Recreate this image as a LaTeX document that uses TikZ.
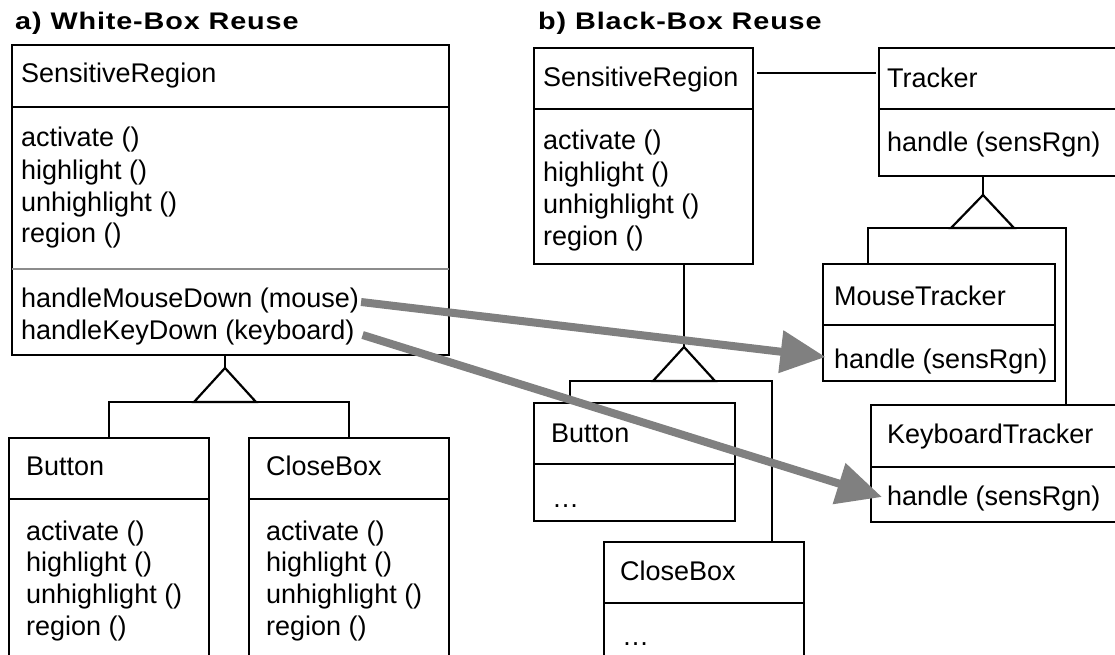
\documentclass[tikz,border=0pt]{standalone}
\usepackage{graphicx}
\usepackage{fontspec}
\setmainfont{Liberation Sans}
\newfontfamily\titlefont{Liberation Sans}[LetterSpace=3]
\usetikzlibrary{arrows.meta}

\definecolor{arrowgray}{HTML}{808080}
\definecolor{rulegray}{HTML}{8C8C8C}

% class box: name, x1, y1, x2, y2, y of the compartment rule
\newcommand\classbox[6]{%
  \node[umlbox, minimum width={#4-#2}, minimum height={#5-#3}] (#1) at (#2,#3) {};
  \draw[link] (#2,#6) -- (#4,#6);
}
% extended bold heading
\newcommand\headtext[1]{\scalebox{1.2}[1]{#1}}

\begin{document}
\begin{tikzpicture}[x=1pt, y=-1pt,
  umlbox/.style={draw, line width=2.2pt, inner sep=0pt, outer sep=0pt, anchor=north west},
  link/.style={line width=2.2pt},
  txt/.style={anchor=base west, inner sep=0pt, font=\fontsize{27}{32}\selectfont},
  heading/.style={anchor=base west, inner sep=0pt, font=\titlefont\bfseries\fontsize{24}{28}\selectfont},
  reuse/.style={draw=arrowgray, line width=8pt, -{Triangle[length=45pt, width=41pt]}}]

\path[use as bounding box] (0,0) rectangle (1115,655);
\clip (0,0) rectangle (1115,655);

% ---------- headings ----------
\node[heading] (ha) at (15,30) {\headtext{a) White-Box Reuse}};
\node[heading] (hb) at (538,30) {\headtext{b) Black-Box Reuse}};

% ---------- a) white-box reuse ----------
\classbox{srA}{12}{45}{449}{355}{107}
\draw[draw=rulegray, line width=1.6pt] (srA.west |- 0,269) -- (srA.east |- 0,269);
\node[txt] (srAname) at (21,83) {SensitiveRegion};
\node[txt] (srA1) at (21,147) {activate ()};
\node[txt] (srA2) at (21,179) {highlight ()};
\node[txt] (srA3) at (21,211) {unhighlight ()};
\node[txt] (srA4) at (21,242) {region ()};
\node[txt] (aMouse) at (21,307) {handleMouseDown (mouse)};
\node[txt] (aKey) at (21,339) {handleKeyDown (keyboard)};

\classbox{btnA}{9}{438}{209}{670}{499}
\node[txt] (btnAname) at (26,475) {Button};
\node[txt] (btnA1) at (26,540) {activate ()};
\node[txt] (btnA2) at (26,571) {highlight ()};
\node[txt] (btnA3) at (26,603) {unhighlight ()};
\node[txt] (btnA4) at (26,635) {region ()};

\classbox{cbA}{249}{438}{449}{670}{499}
\node[txt] (cbAname) at (266,475) {CloseBox};
\node[txt] (cbA1) at (266,540) {activate ()};
\node[txt] (cbA2) at (266,571) {highlight ()};
\node[txt] (cbA3) at (266,603) {unhighlight ()};
\node[txt] (cbA4) at (266,635) {region ()};

% generalization Button/CloseBox -> SensitiveRegion
\coordinate (aApex) at (225,368);
\draw[link] (aApex |- srA.south) -- (aApex);
\draw[link] (aApex) -- ++(-31,34) -- ++(62,0) -- cycle;
\draw[link] (btnA.north) -- ++(0,-36) -| (cbA.north);

% ---------- b) black-box reuse ----------
\classbox{srB}{534}{48}{753}{264}{109}
\node[txt] (srBname) at (543,87) {SensitiveRegion};
\node[txt] (srB1) at (543,150) {activate ()};
\node[txt] (srB2) at (543,182) {highlight ()};
\node[txt] (srB3) at (543,213) {unhighlight ()};
\node[txt] (srB4) at (543,245) {region ()};

\classbox{tracker}{879}{48}{1135}{176}{109}
\node[txt] (trname) at (887,88) {Tracker};
\node[txt] (tr1) at (887,152) {handle (sensRgn)};

\classbox{mt}{823}{264}{1055}{381}{325}
\node[txt] (mtname) at (834,305) {MouseTracker};
\node[txt] (mtHandle) at (834,368) {handle (sensRgn)};

\classbox{kt}{871}{405}{1135}{522}{467}
\node[txt] (ktname) at (887,443) {KeyboardTracker};
\node[txt] (ktHandle) at (887,505) {handle (sensRgn)};

\classbox{btnB}{534}{403}{735}{521}{464}
\node[txt] (btnBname) at (551,442) {Button};
\node[txt] (btnB1) at (552,507) {…};

\classbox{cbB}{604}{542}{804}{670}{603}
\node[txt] (cbBname) at (620,580) {CloseBox};
\node[txt] (cbB1) at (622,645) {…};

% association SensitiveRegion -- Tracker
\coordinate (assocY) at (0,73);
\draw[link] ([xshift=4pt]srB.east |- assocY) -- ([xshift=-3pt]tracker.west |- assocY);

% generalization Button/CloseBox -> SensitiveRegion
\coordinate (bApex) at (684,347);
\draw[link] (bApex |- srB.south) -- (bApex);
\draw[link] (bApex) -- ++(-31,34) -- ++(62,0) -- cycle;
\draw[link] ([xshift=36pt]btnB.north west) -- ++(0,-22) -- ++(202,0) -- ([xshift=-32pt]cbB.north east);

% generalization MouseTracker/KeyboardTracker -> Tracker
\coordinate (tApex) at (983,195);
\draw[link] (tApex |- tracker.south) -- (tApex);
\draw[link] (tApex) -- ++(-32,33) -- ++(63,0) -- cycle;
\draw[link] ([xshift=45pt]mt.north west) -- ++(0,-36) -- ++(198,0) -- ([xshift=195pt]kt.north west);

% ---------- handler methods moved into trackers ----------
\draw[reuse] ([shift={(2,-5)}]aMouse.base east) -- ([shift={(-8.5,-11)}]mtHandle.base west);
\draw[reuse] ([shift={(8,-4)}]aKey.base east) -- ([shift={(-5,-8)}]ktHandle.base west);

\end{tikzpicture}
\end{document}
